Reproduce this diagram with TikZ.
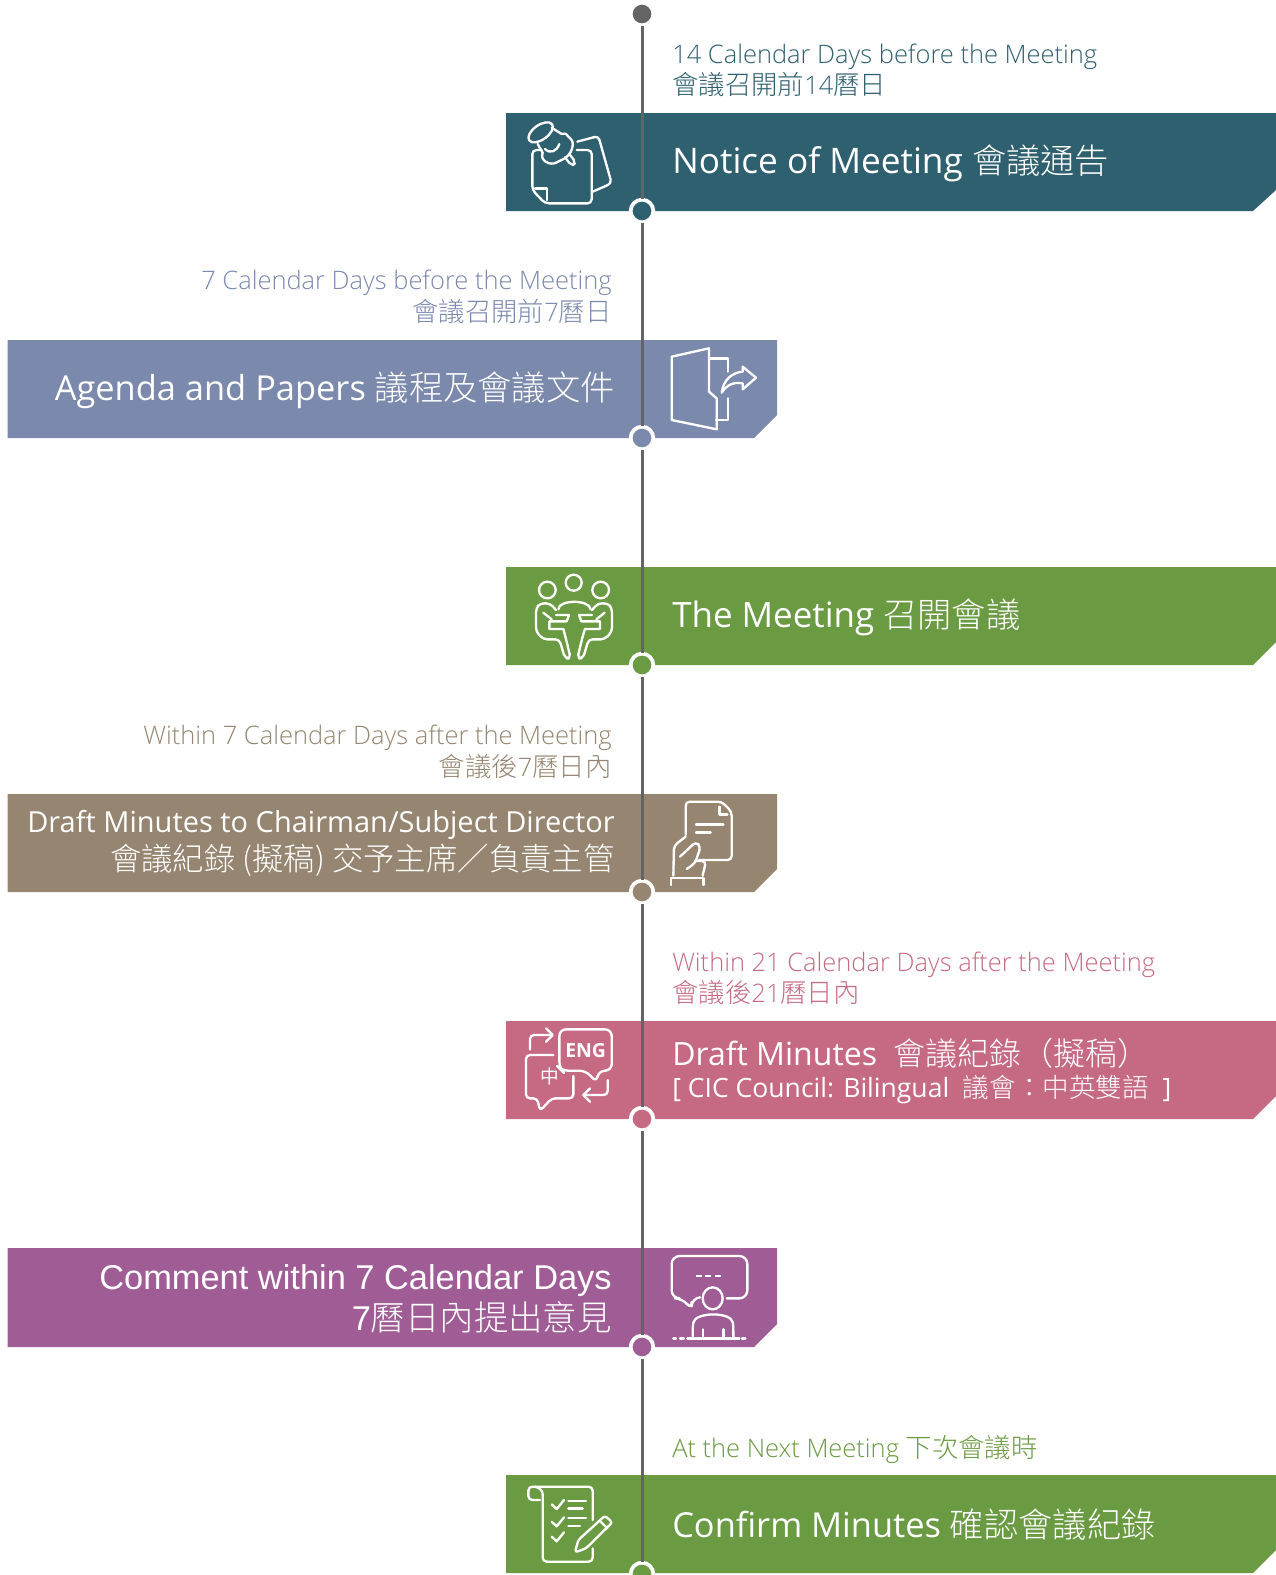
\documentclass[tikz,border=0pt]{standalone}
\usepackage{fontspec}
\setmainfont{Open Sans}
\newfontfamily\lightfont{Open Sans Light}
\newfontfamily\cjk{Noto Sans CJK TC}
\newfontfamily\cjklight{Noto Sans CJK TC Light}
\newfontfamily\arialfont{Liberation Sans}
\newcommand{\zh}[1]{{\cjklight\fontsize{25.7}{30}\selectfont #1}}
\newcommand{\zhdate}[1]{{\cjklight\fontsize{19.8}{23}\selectfont #1}}
\definecolor{tealband}{HTML}{2F6070}
\definecolor{blueband}{HTML}{7B89AD}
\definecolor{greenband}{HTML}{6A9A42}
\definecolor{tanband}{HTML}{968570}
\definecolor{pinkband}{HTML}{C66A84}
\definecolor{purpleband}{HTML}{A05C95}
\definecolor{lineband}{HTML}{636466}
\tikzset{
    stepdot/.style={circle, inner sep=0pt, minimum size=17pt, draw=white, line width=2.8pt, outer sep=0.6pt},
    titleleft/.style={anchor=west, inner sep=0pt, text=white, align=left, font=\fontsize{25.8}{30}\selectfont},
    titleright/.style={anchor=east, inner sep=0pt, text=white, align=right, font=\fontsize{25.8}{30}\selectfont},
    dateleft/.style={anchor=west, inner sep=0pt, align=left, font=\fontsize{19.1}{23.6}\selectfont\lightfont},
    dateright/.style={anchor=east, inner sep=0pt, align=right, font=\fontsize{19.1}{23.6}\selectfont\lightfont},
    iconline/.style={draw=white, line width=1.75pt, rounded corners=3pt, line cap=round, line join=round},
    icon/.style={x=0.25pt, y=-0.25pt}
}
\begin{document}
\begin{tikzpicture}[x=0.75pt, y=-0.75pt]
    \useasboundingbox (0,0) rectangle (1276,1575);

    % bands
    \fill[tealband] (506,113) -- (1276,113) -- (1276,190) -- (1253,211) -- (506,211) -- cycle;
    \fill[blueband] (7.5,340) -- (777,340) -- (777,415) -- (754,438) -- (7.5,438) -- cycle;
    \fill[greenband] (506,567) -- (1276,567) -- (1276,642) -- (1253,665) -- (506,665) -- cycle;
    \fill[tanband] (7.5,794) -- (777,794) -- (777,869) -- (754,892) -- (7.5,892) -- cycle;
    \fill[pinkband] (506,1021) -- (1276,1021) -- (1276,1096) -- (1253,1119) -- (506,1119) -- cycle;
    \fill[purpleband] (7.5,1248) -- (777,1248) -- (777,1324) -- (754,1347) -- (7.5,1347) -- cycle;
    \fill[greenband] (506,1475) -- (1276,1475) -- (1276,1550) -- (1253,1573) -- (506,1573) -- cycle;

    % timeline
    \node[stepdot, fill=lineband] (dot0) at (642,14) {};
    \node[stepdot, fill=tealband] (dot1) at (642,211) {};
    \node[stepdot, fill=blueband] (dot2) at (642,438) {};
    \node[stepdot, fill=greenband] (dot3) at (642,665) {};
    \node[stepdot, fill=tanband] (dot4) at (642,892) {};
    \node[stepdot, fill=pinkband] (dot5) at (642,1119) {};
    \node[stepdot, fill=purpleband] (dot6) at (642,1347) {};
    \node[stepdot, fill=greenband] (dot7) at (642,1574) {};

    \draw[lineband, line width=2.25pt] (dot0) -- (dot1);
    \draw[lineband, line width=2.25pt] (dot1) -- (dot2);
    \draw[lineband, line width=2.25pt] (dot2) -- (dot3);
    \draw[lineband, line width=2.25pt] (dot3) -- (dot4);
    \draw[lineband, line width=2.25pt] (dot4) -- (dot5);
    \draw[lineband, line width=2.25pt] (dot5) -- (dot6);
    \draw[lineband, line width=2.25pt] (dot6) -- (dot7);

    % texts
    \node[dateleft, text=tealband] (date1) at (672,70.5) {14 Calendar Days before the Meeting\\\zhdate{會議召開前}14\zhdate{曆日}};
    \node[titleleft, font=\fontsize{26.4}{30}\selectfont] (title1) at (672,163) {Notice of Meeting \zh{會議通告}};

    \node[dateright, text=blueband] (date2) at (612,297) {7 Calendar Days before the Meeting\\\zhdate{會議召開前}7\zhdate{曆日}};
    \node[titleright] (title2) at (615,390) {Agenda and Papers \zh{議程及會議文件}};

    \node[titleleft, font=\fontsize{26.2}{30}\selectfont] (title3) at (672,617) {The Meeting \zh{召開會議}};

    \node[dateright, text=tanband] (date4) at (612,752) {Within 7 Calendar Days after the Meeting\\\zhdate{會議後}7\zhdate{曆日內}};
    \node[titleright, font=\fontsize{21.75}{28.7}\selectfont] (title4) at (615,843.5) {Draft Minutes to Chairman/Subject Director\\{\cjklight\fontsize{23.55}{28.7}\selectfont 會議紀錄 (擬稿) 交予主席／負責主管}};

    \node[dateleft, text=pinkband] (date5) at (672,978.5) {Within 21 Calendar Days after the Meeting\\\zhdate{會議後}21\zhdate{曆日內}};
    \node[titleleft, font=\fontsize{24}{24}\selectfont] (title5) at (672,1071) {Draft Minutes \ {\cjklight 會議紀錄（擬稿）}\\{\fontsize{19.9}{24}\selectfont [ CIC Council: Bilingual \ {\cjklight 議會：中英雙語} \ ]}};

    \node[titleright, font=\fontsize{25.8}{31}\selectfont\arialfont] (title6) at (612,1298.5) {Comment within 7 Calendar Days\\7{\cjklight 曆日內提出意見}};

    \node[dateleft, text=greenband] (date7) at (672,1449) {At the Next Meeting \zhdate{下次會議時}};
    \node[titleleft] (title7) at (672,1525) {Confirm Minutes \zh{確認會議紀錄}};

    % notice icon
    \begin{scope}[shift={(500,0)}, icon]
        \draw[iconline, rotate around={35:(122,397)}] (122,397) ellipse (42 and 22);
        \draw[iconline] (113,432) -- (128,458);
        \draw[iconline] (155,383) -- (185,402);
        \draw[iconline] (128,458) .. controls (118,482) and (150,498) .. (180,482) .. controls (215,465) and (225,430) .. (205,410) .. controls (198,402) and (190,400) .. (185,402);
        \draw[iconline] (135,447) .. controls (150,462) and (170,455) .. (178,432);
        \draw[iconline] (195,472) -- (215,498) -- (228,488) -- (208,462);
        \draw[iconline] (125,450) -- (97,450) -- (97,570) -- (135,610) -- (275,610) -- (275,450) -- (230,450);
        \draw[iconline, rounded corners=0pt] (105,565) -- (140,565) -- (140,600);
        \draw[iconline] (232,425) -- (295,408) -- (335,550) -- (278,575);
    \end{scope}

    % papers icon
    \begin{scope}[shift={(620,330)}, icon]
        \draw[iconline, rounded corners=0pt] (155,80) -- (267,55) -- (267,185) -- (290,205) -- (290,298) -- (155,270) -- cycle;
        \draw[iconline, rounded corners=0pt] (270,85) -- (323,85) -- (323,125);
        \draw[iconline, rounded corners=0pt] (323,205) -- (323,270) -- (288,270);
        \draw[iconline, rounded corners=0pt] (305,188) .. controls (310,150) and (335,128) .. (368,125) -- (368,110) -- (408,143) -- (368,178) -- (368,160) .. controls (340,155) and (320,165) .. (305,188);
    \end{scope}

    % meeting icon
    \begin{scope}[shift={(500,560)}, icon]
        \draw[iconline] (142,90) circle (25);
        \draw[iconline] (221,68) circle (24);
        \draw[iconline] (302,90) circle (25);
        \draw[iconline] (175,148) .. controls (175,118) and (270,118) .. (272,148);
        \draw[iconline] (168,150) -- (150,130) -- (120,130) -- (108,145) -- (108,215) -- (130,238) -- (178,238) -- (195,295) -- (212,295) -- (195,225) -- (190,207);
        \draw[iconline] (276,150) -- (294,130) -- (324,130) -- (336,145) -- (336,215) -- (314,238) -- (266,238) -- (249,295) -- (232,295) -- (249,225) -- (255,207);
        \draw[iconline] (130,158) -- (155,178);
        \draw[iconline] (314,158) -- (289,178);
        \draw[iconline, rounded corners=0pt] (190,207) -- (148,207) -- (148,184) -- (200,184) -- (207,165) -- (168,165);
        \draw[iconline, rounded corners=0pt] (255,207) -- (300,207) -- (300,184) -- (244,184) -- (237,165) -- (276,165);
    \end{scope}

    % draft icon
    \begin{scope}[shift={(620,785)}, icon]
        \draw[iconline] (197,150) -- (197,50) -- (305,50) -- (335,80) -- (335,225) -- (237,225);
        \draw[iconline, rounded corners=0pt] (298,65) -- (298,88) -- (322,88);
        \draw[iconline] (228,118) -- (310,118);
        \draw[iconline] (228,142) -- (272,142);
        \draw[iconline] (197,155) -- (162,182) -- (160,272);
        \draw[iconline] (180,215) -- (228,170) -- (242,185) -- (225,235) -- (200,252);
        \draw[iconline] (225,228) -- (258,228) -- (248,272);
        \draw[iconline, rounded corners=0pt] (153,300) -- (153,278) -- (250,278) -- (250,300);
    \end{scope}

    % translate icon
    \begin{scope}[shift={(500,1010)}, icon]
        \draw[iconline, rounded corners=5pt] (258,182) -- (185,182) -- (178,175) -- (178,58) -- (335,58) -- (335,182) -- (295,182) -- (290,218) -- cycle;
        \node[inner sep=0pt, text=white, font=\fontsize{14.6}{14}\selectfont\bfseries] (eng) at (257,122) {ENG};
        \node[inner sep=0pt, text=white, font=\fontsize{14}{14}\selectfont\cjk] (zhong) at (150,198) {中};
        \draw[iconline] (160,135) -- (78,135) -- (78,265) -- (112,265) -- (120,303) -- (155,265) -- (220,265) -- (220,198);
        \draw[iconline] (90,118) -- (90,75) -- (155,75);
        \draw[iconline, rounded corners=0pt] (138,55) -- (158,75) -- (138,95);
        \draw[iconline] (323,210) -- (323,255) -- (250,255);
        \draw[iconline, rounded corners=0pt] (270,235) -- (250,255) -- (270,275);
    \end{scope}

    % comment icon
    \begin{scope}[shift={(620,1240)}, icon]
        \draw[iconline, rounded corners=6pt] (320,175) -- (382,175) -- (382,48) -- (155,48) -- (155,175) -- (188,175) -- (215,210) -- (215,175) -- (240,172);
        \draw[iconline, line cap=butt, dash pattern=on 4.5pt off 2.5pt] (228,107) -- (302,107);
        \draw[iconline] (278,175) ellipse (30 and 33);
        \draw[iconline] (218,295) -- (218,260) .. controls (225,215) and (335,215) .. (340,260) -- (340,295);
        \draw[iconline] (248,268) -- (248,295);
        \draw[iconline] (310,268) -- (310,295);
        \draw[iconline] (202,295) -- (358,295);
        \draw[iconline] (160,295) -- (168,295);
        \draw[iconline] (180,295) -- (192,295);
        \draw[iconline] (366,295) -- (376,295);
    \end{scope}

    % confirm icon
    \begin{scope}[shift={(500,1465)}, icon]
        \draw[iconline] (120,105) -- (85,105) -- (85,65) -- (278,65) -- (278,165);
        \draw[iconline] (105,65) .. controls (120,68) and (128,78) .. (128,100) -- (128,290) -- (278,290) -- (278,250);
        \draw[iconline, rounded corners=0pt] (155,118) -- (170,132) -- (192,105);
        \draw[iconline, rounded corners=0pt] (155,170) -- (170,184) -- (192,157);
        \draw[iconline, rounded corners=0pt] (155,215) -- (170,229) -- (192,202);
        \draw[iconline] (205,108) -- (258,108);
        \draw[iconline] (205,130) -- (248,130);
        \draw[iconline] (205,158) -- (258,158);
        \draw[iconline] (205,182) -- (240,182);
        \draw[iconline, rounded corners=2pt] (225,262) -- (235,225) -- (315,152) -- (337,172) -- (258,250) -- cycle;
        \draw[iconline] (300,168) -- (322,190);
    \end{scope}
\end{tikzpicture}
\end{document}
